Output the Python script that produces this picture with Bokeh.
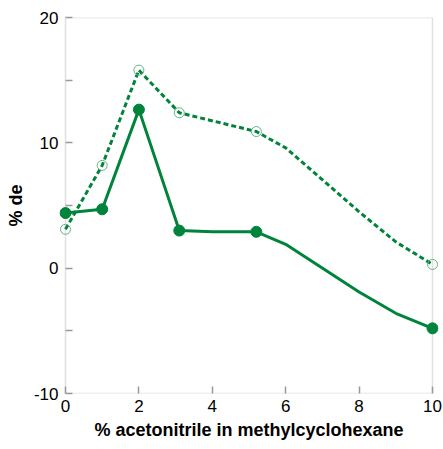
from bokeh.plotting import figure
from bokeh.models import Range1d, FixedTicker, BoxAnnotation
from bokeh.embed import file_html
from bokeh.resources import INLINE

# data
solid_x = [0, 1, 2, 3.1, 4, 5.2, 6, 8, 9, 10]
solid_y = [4.4, 4.7, 12.65, 3.0, 2.9, 2.9, 1.9, -1.9, -3.6, -4.8]
solid_mx = [0, 1, 2, 3.1, 5.2, 10]
solid_my = [4.4, 4.7, 12.65, 3.0, 2.9, -4.8]

dash_x = [0, 1, 2, 3.1, 5.2, 6, 8, 9, 10]
dash_y = [3.1, 8.2, 15.8, 12.4, 10.9, 9.6, 4.5, 2.1, 0.3]
dash_mx = [0, 1, 2, 3.1, 5.2, 10]
dash_my = [3.1, 8.2, 15.8, 12.4, 10.9, 0.3]

x_ticks = [0, 2, 4, 6, 8, 10]
y_ticks = [-10, 0, 10, 20]
y_minor = [-5, 5, 15]
x_min, x_max = 0, 10
y_min, y_max = -10, 20

GREEN = "#00843c"
LIGHT = "#62b283"
GRAY = "#999999"
FONT = "Liberation Sans"
PAD = 0.1635
PAD_PX = 6

p = figure(width=443, height=445, output_backend="svg", toolbar_location=None,
           x_range=Range1d(x_min - PAD, x_max + PAD), y_range=Range1d(y_min, y_max),
           min_border_left=59, min_border_top=17, min_border_right=5, min_border_bottom=52)
p.grid.visible = False
p.outline_line_color = None

for ax in (p.xaxis[0], p.yaxis[0]):
    ax.axis_line_color = None
    ax.major_tick_line_color = GRAY
    ax.minor_tick_line_color = GRAY
    ax.major_tick_line_width = 1.5
    ax.minor_tick_line_width = 1.5
    ax.major_label_text_font = FONT
    ax.major_label_text_font_size = "17px"
    ax.major_label_text_color = "black"
    ax.axis_label_text_font = FONT
    ax.axis_label_text_font_size = "18px"
    ax.axis_label_text_font_style = "bold"
    ax.axis_label_text_color = "black"

p.xaxis.ticker = FixedTicker(ticks=x_ticks)
p.xaxis.major_tick_out = 0
p.xaxis.major_tick_in = 7
p.xaxis.major_label_standoff = 6
p.xaxis.axis_label = "% acetonitrile in methylcyclohexane"
p.xaxis.axis_label_standoff = 5

p.yaxis.ticker = FixedTicker(ticks=y_ticks, minor_ticks=y_minor)
p.yaxis.major_label_overrides = {-10: "-10"}
p.yaxis.major_tick_out = -PAD_PX
p.yaxis.major_tick_in = PAD_PX + 7
p.yaxis.minor_tick_out = -PAD_PX
p.yaxis.minor_tick_in = PAD_PX + 7
p.yaxis.major_label_standoff = 7
p.yaxis.axis_label = "% de"
p.yaxis.axis_label_standoff = 5

box = BoxAnnotation(left=x_min, right=x_max, bottom=y_min, top=y_max,
                    fill_color=None, line_color=GRAY, line_width=1.5, level="underlay")
p.add_layout(box)

p.line(dash_x, dash_y, line_color=GREEN, line_width=3, line_dash="5 3")
p.line(solid_x, solid_y, line_color=GREEN, line_width=3)
p.scatter(dash_mx, dash_my, size=10, fill_color=None, line_color=LIGHT, line_width=1)
p.scatter(solid_mx, solid_my, size=11, fill_color=GREEN, line_color=GREEN)

open("out.html", "w").write(file_html(p, INLINE))
